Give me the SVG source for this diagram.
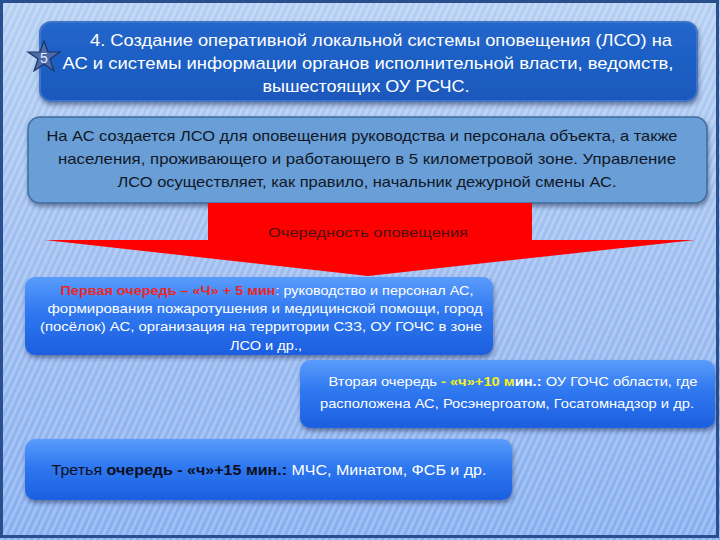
<svg xmlns="http://www.w3.org/2000/svg" width="720" height="540" viewBox="0 0 720 540">
<defs>
  <linearGradient id="bg" x1="0" y1="0" x2="0" y2="1">
    <stop offset="0" stop-color="#b4cff2"/>
    <stop offset="0.5" stop-color="#9dbdf0"/>
    <stop offset="1" stop-color="#86aef0"/>
  </linearGradient>
  <pattern id="stripes" width="6" height="6" patternUnits="userSpaceOnUse" patternTransform="rotate(25)">
    <rect width="3" height="6" fill="#ffffff" fill-opacity="0.22"/>
  </pattern>
  <linearGradient id="blueBox" x1="0" y1="0" x2="0" y2="1">
    <stop offset="0" stop-color="#5a9cfb"/>
    <stop offset="0.45" stop-color="#2f78f0"/>
    <stop offset="1" stop-color="#1c5fe0"/>
  </linearGradient>
  <linearGradient id="titleGrad" x1="0" y1="0" x2="0" y2="1">
    <stop offset="0" stop-color="#2266cc"/>
    <stop offset="1" stop-color="#1a58bc"/>
  </linearGradient>
  <filter id="shadow" x="-5%" y="-10%" width="110%" height="130%">
    <feDropShadow dx="1" dy="3" stdDeviation="2" flood-color="#1a2a50" flood-opacity="0.5"/>
  </filter>
  <style>
    .t { font-family: "Liberation Sans", Arial, sans-serif; }
    .tn { font-family: "Liberation Sans Narrow", "Liberation Sans", Arial, sans-serif; }
    .title { fill: #ffffff; font-size: 17px; text-anchor: middle; }
    .dark { fill: #101828; font-size: 15px; text-anchor: middle; }
    .white { fill: #ffffff; font-size: 13.5px; text-anchor: middle; }
    .blue { fill: url(#blueBox); filter: url(#shadow); }
  </style>
</defs>

<!-- background -->
<rect x="0" y="0" width="720" height="540" fill="url(#bg)"/>
<rect x="0" y="0" width="720" height="540" fill="url(#stripes)"/>
<rect x="1.5" y="1.5" width="716" height="535" fill="none" stroke="#2a4f8e" stroke-width="3"/>

<!-- title node -->
<g id="title">
  <rect x="40" y="22" width="657" height="79" rx="11" fill="url(#titleGrad)" stroke="#3d74c8" stroke-width="2" filter="url(#shadow)"/>
  <text class="tn title" x="381" y="46" textLength="582" lengthAdjust="spacingAndGlyphs">4. Создание оперативной локальной системы оповещения (ЛСО) на</text>
  <text class="tn title" x="368" y="69" textLength="611" lengthAdjust="spacingAndGlyphs">АС и системы информации органов исполнительной власти, ведомств,</text>
  <text class="tn title" x="366" y="92" textLength="207" lengthAdjust="spacingAndGlyphs">вышестоящих ОУ РСЧС.</text>
</g>

<!-- star badge -->
<g id="star">
  <polygon points="44,41 48,52 60,52 50,59 54,71 44,64 34,71 38,59 28,52 40,52" fill="#4a6aa8" stroke="#1e3468" stroke-width="1.2"/>
  <text class="t" x="44" y="63" font-size="14" fill="#e8eefc" text-anchor="middle">5</text>
</g>

<!-- info node -->
<g id="info">
  <rect x="28" y="117" width="679" height="86" rx="12" fill="#6b9ed6" stroke="#3e6d9f" stroke-width="1.5" filter="url(#shadow)"/>
  <text class="tn dark" x="362" y="141" textLength="631" lengthAdjust="spacingAndGlyphs">На АС создается ЛСО для оповещения руководства и персонала объекта, а также</text>
  <text class="tn dark" x="367" y="164" textLength="618" lengthAdjust="spacingAndGlyphs">населения, проживающего и работающего в 5 километровой зоне. Управление</text>
  <text class="tn dark" x="367" y="187" textLength="499" lengthAdjust="spacingAndGlyphs">ЛСО осуществляет, как правило, начальник дежурной смены АС.</text>
</g>

<!-- connector: red arrow -->
<g id="connectors">
  <polygon points="45,241 208,241 208,244" fill="#5a6e8e" opacity="0.6"/>
  <polygon points="532,241 695,241 532,244" fill="#5a6e8e" opacity="0.6"/>
  <polygon points="208,203 532,203 532,240 695,240 368,276 45,240 208,240" fill="#ff0000"/>
  <text class="t" x="368" y="237" font-size="13" fill="#4a1010" text-anchor="middle" textLength="200" lengthAdjust="spacingAndGlyphs">Очередность оповещения</text>
</g>

<!-- first queue -->
<g id="queue1">
  <rect class="blue" x="25" y="277" width="468" height="78" rx="10"/>
  <text class="t white" x="267" y="295" textLength="413" lengthAdjust="spacingAndGlyphs"><tspan fill="#e82828" font-weight="bold">Первая очередь – «Ч» + 5 мин</tspan>: руководство и персонал АС,</text>
  <text class="t white" x="265" y="313" textLength="435" lengthAdjust="spacingAndGlyphs">формирования пожаротушения и медицинской помощи, город</text>
  <text class="t white" x="261" y="331" textLength="442" lengthAdjust="spacingAndGlyphs">(посёлок) АС, организация  на территории СЗЗ, ОУ ГОЧС в зоне</text>
  <text class="t white" x="266" y="350" textLength="72" lengthAdjust="spacingAndGlyphs">ЛСО и др.,</text>
</g>

<!-- second queue -->
<g id="queue2">
  <rect class="blue" x="300" y="360" width="415" height="68" rx="10"/>
  <text class="t white" x="513" y="386" textLength="369" lengthAdjust="spacingAndGlyphs">Вторая очередь <tspan fill="#f4f020" font-weight="bold">- «ч»+10 м</tspan><tspan font-weight="bold">ин.:</tspan> ОУ ГОЧС области, где</text>
  <text class="t white" x="507" y="408" textLength="374" lengthAdjust="spacingAndGlyphs">расположена АС, Росэнергоатом, Госатомнадзор и др.</text>
</g>

<!-- third queue -->
<g id="queue3">
  <rect class="blue" x="25" y="439" width="487" height="61" rx="10"/>
  <text class="t" x="269" y="475" font-size="15" text-anchor="middle" fill="#ffffff" textLength="435" lengthAdjust="spacingAndGlyphs"><tspan fill="#0a0f1e">Третья </tspan><tspan fill="#0a0f1e" font-weight="bold">очередь - «ч»+15 мин.:</tspan> МЧС, Минатом, ФСБ и др.</text>
</g>
</svg>
